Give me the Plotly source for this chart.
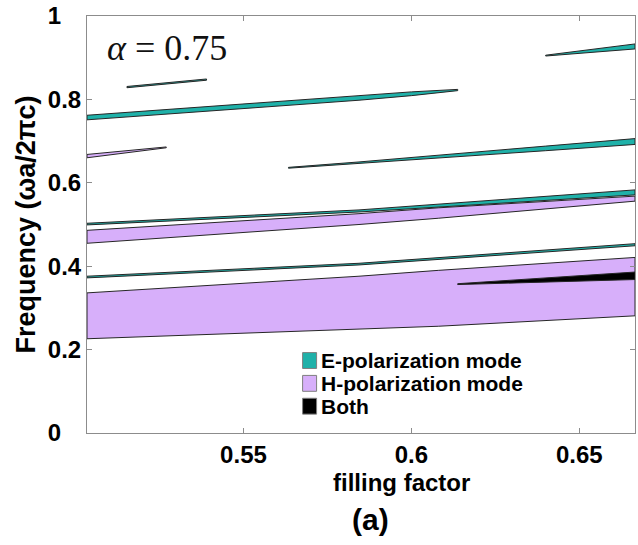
import plotly.graph_objects as go

# ---------------- data ----------------
x_range = [0.5034, 0.6666]
x_tickvals = [0.55, 0.6, 0.65]
x_ticktext = ["0.55", "0.6", "0.65"]
y_range = [0, 1]
y_tickvals = [0, 0.2, 0.4, 0.6, 0.8, 1.0]
# labels are left-aligned in the reference: pad the short ones with digit/punctuation spaces
y_ticktext = ["0\u2008\u2007", "0.2", "0.4", "0.6", "0.8", "1\u2008\u2007"]

# E-polarization gaps: filling factor, lower edge, upper edge
e1_f = [0.5034, 0.5844, 0.600, 0.6138]
e1_lo = [0.751, 0.798, 0.809, 0.821]
e1_hi = [0.762, 0.809, 0.818, 0.824]

e2_f = [0.640, 0.6666]
e2_lo = [0.904, 0.921]
e2_hi = [0.906, 0.933]

e3_f = [0.5634, 0.5844, 0.614, 0.640, 0.6666]
e3_lo = [0.635, 0.647, 0.663, 0.677, 0.692]
e3_hi = [0.637, 0.650, 0.670, 0.688, 0.706]

e4_f = [0.5034, 0.5844, 0.6666]
e4_lo = [0.499, 0.530, 0.571]
e4_hi = [0.503, 0.535, 0.583]

e5_f = [0.5034, 0.5844, 0.6666]
e5_lo = [0.372, 0.403, 0.449]
e5_hi = [0.376, 0.407, 0.454]

e6_f = [0.5153, 0.539]
e6_lo = [0.828, 0.846]
e6_hi = [0.831, 0.849]

# H-polarization gaps
h1_f = [0.5034, 0.527]
h1_lo = [0.660, 0.684]
h1_hi = [0.668, 0.686]

h2_f = [0.5034, 0.5844, 0.608, 0.6666]
h2_lo = [0.455, 0.500, 0.515, 0.556]
h2_hi = [0.486, 0.526, 0.540, 0.568]

h3_f = [0.5034, 0.5844, 0.608, 0.6666]
h3_lo = [0.226, 0.248, 0.256, 0.281]
h3_hi = [0.336, 0.376, 0.390, 0.421]

# Complete (both) gap
b1_f = [0.6138, 0.6666]
b1_lo = [0.356, 0.368]
b1_hi = [0.358, 0.386]

legend_labels = ["E-polarization mode", "H-polarization mode", "Both"]

# ---------------- styles ----------------
E_COLOR = "#1fb1a9"
H_COLOR = "#d7affa"
B_COLOR = "#000000"
EDGE = "#262626"
FONT = "Liberation Sans, Arial, sans-serif"

# plot area in pixels (for placing the hand-drawn legend / labels)
PX_L, PX_R, PX_T, PX_B = 87, 636, 13, 433


def px_x(px):
    return (px - PX_L) / (PX_R - PX_L)


def px_y(py):
    return (PX_B - py) / (PX_B - PX_T)


def polygons(bands):
    xs, ys = [], []
    for f, lo, hi in bands:
        xs += list(f) + list(reversed(f)) + [f[0], None]
        ys += list(lo) + list(reversed(hi)) + [lo[0], None]
    return xs, ys


fig = go.Figure()

groups = [
    ([(h1_f, h1_lo, h1_hi), (h2_f, h2_lo, h2_hi), (h3_f, h3_lo, h3_hi)], H_COLOR, legend_labels[1]),
    ([(e1_f, e1_lo, e1_hi), (e2_f, e2_lo, e2_hi), (e3_f, e3_lo, e3_hi),
      (e4_f, e4_lo, e4_hi), (e5_f, e5_lo, e5_hi), (e6_f, e6_lo, e6_hi)], E_COLOR, legend_labels[0]),
    ([(b1_f, b1_lo, b1_hi)], B_COLOR, legend_labels[2]),
]
for bands, color, name in groups:
    xs, ys = polygons(bands)
    fig.add_trace(go.Scatter(
        x=xs, y=ys, mode="lines", fill="toself", fillcolor=color,
        line=dict(color=EDGE, width=1), name=name, showlegend=False,
        hoverinfo="skip",
    ))

# ---------------- legend drawn as boxes + text (MATLAB-like layout) ----------------
row_centers = [360, 383, 406]
row_colors = [E_COLOR, H_COLOR, B_COLOR]
for cy, c, label in zip(row_centers, row_colors, legend_labels):
    fig.add_shape(type="rect", xref="paper", yref="paper",
                  x0=px_x(303), x1=px_x(317), y0=px_y(cy + 8), y1=px_y(cy - 8),
                  fillcolor=c, line=dict(color="#7f7f7f", width=1))
    fig.add_annotation(xref="paper", yref="paper", x=px_x(319), y=px_y(cy),
                       text=label, showarrow=False, xanchor="left", yanchor="middle",
                       font=dict(family=FONT, size=21, color="black", weight="bold"))

fig.add_annotation(xref="paper", yref="paper", x=px_x(167), y=px_y(45),
                   text="<i>α</i> = 0.75", showarrow=False, xanchor="center", yanchor="middle",
                   font=dict(family="Liberation Serif, Times New Roman, serif", size=36, color="#111"))

fig.add_annotation(xref="paper", yref="paper", x=px_x(402), y=px_y(483),
                   text="filling factor", showarrow=False, xanchor="center", yanchor="middle",
                   font=dict(family=FONT, size=24, color="black", weight="bold"))

fig.add_annotation(xref="paper", yref="paper", x=px_x(371), y=px_y(520),
                   text="(a)", showarrow=False, xanchor="center", yanchor="middle",
                   font=dict(family=FONT, size=30, color="black", weight="bold"))

axis_common = dict(
    showline=True, linecolor="#8c8c8c", linewidth=1, mirror="ticks",
    ticks="inside", ticklen=5, tickcolor="#8c8c8c", showgrid=False, zeroline=False,
    ticklabeloverflow="allow",
    tickfont=dict(family=FONT, size=24, color="black", weight="bold"),
)

fig.update_layout(
    width=638, height=545,
    margin=dict(l=PX_L, r=638 - PX_R, t=PX_T, b=545 - PX_B),
    paper_bgcolor="white", plot_bgcolor="white",
    showlegend=False,
    xaxis=dict(range=x_range, tickvals=x_tickvals, ticktext=x_ticktext, **axis_common),
    yaxis=dict(range=y_range, tickvals=y_tickvals, ticktext=y_ticktext,
               ticklabelstandoff=0,
               title=dict(text="Frequency (ωa/2πc)", standoff=4,
                          font=dict(family=FONT, size=27, color="black", weight="bold")),
               **axis_common),
)

fig.write_html("out.html")
